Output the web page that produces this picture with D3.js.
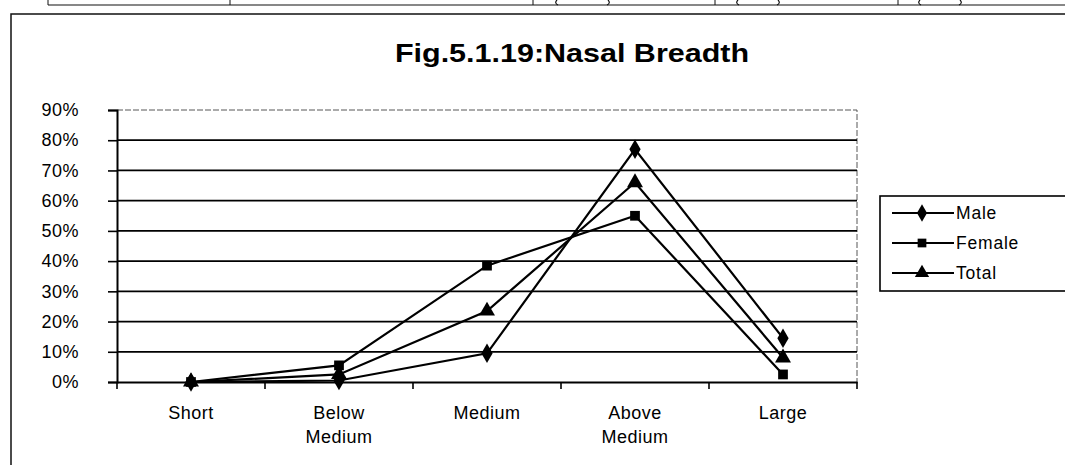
<!DOCTYPE html>
<html lang="en">
<head>
    <meta charset="UTF-8">
    <title>Fig.5.1.19:Nasal Breadth</title>
    <script src="https://d3js.org/d3.v7.min.js"></script>
    <style>
        body { margin: 0; background: #fff; }
        svg { display: block; font-family: "Liberation Sans", Arial, sans-serif; }
        .tick-label { font-size: 18px; letter-spacing: 0.5px; fill: #000; }
        .legend-label { font-size: 17.5px; letter-spacing: 0.8px; fill: #000; }
        .title { font-size: 25px; font-weight: bold; fill: #000; }
    </style>
</head>
<body>
<svg id="chart" width="1065" height="465"></svg>
<script>
    // data (percent)
    const categories = ["Short", "Below Medium", "Medium", "Above Medium", "Large"];
    const male = [0, 0.5, 9.5, 77, 14.5];
    const female = [0, 5.5, 38.5, 55, 2.5];
    const total = [0, 2.5, 23.5, 66, 8];
    const seriesNames = ["Male", "Female", "Total"];
    const yTicks = [0, 10, 20, 30, 40, 50, 60, 70, 80, 90];

    const series = [
        {name: seriesNames[0], values: male, symbol: d3.symbolDiamond, size: 110},
        {name: seriesNames[1], values: female, symbol: d3.symbolSquare, size: 95},
        {name: seriesNames[2], values: total, symbol: d3.symbolTriangle, size: 110}
    ];

    const svg = d3.select("#chart");

    // bits of the table above the figure and the figure frame
    svg.append("line").attr("x1", 48).attr("x2", 1065).attr("y1", 5).attr("y2", 5)
        .attr("stroke", "#111").attr("stroke-width", 1.2);
    [48, 230, 533, 715, 898].forEach(x => {
        svg.append("line").attr("x1", x).attr("x2", x).attr("y1", 0).attr("y2", 5)
            .attr("stroke", "#111").attr("stroke-width", 1);
    });
    // bottoms of brackets from the table row
    [[555, 1], [610, -1], [736, 1], [780, -1], [918, 1], [962, -1]].forEach(p => {
        svg.append("path")
            .attr("d", `M${p[0] + p[1] * 2},0 Q${p[0] - p[1] * 1},3 ${p[0] + p[1] * 3},5`)
            .attr("fill", "none").attr("stroke", "#111").attr("stroke-width", 1.2);
    });
    svg.append("path").attr("d", "M11,465 V14 H1065")
        .attr("fill", "none").attr("stroke", "#111").attr("stroke-width", 1.5);

    svg.append("text").attr("class", "title")
        .attr("text-anchor", "middle")
        .attr("transform", "translate(572,62) scale(1.22,1)")
        .text("Fig.5.1.19:Nasal Breadth");

    const margin = {left: 117, right: 857, top: 110, bottom: 382};

    const x = d3.scaleBand().domain(categories).range([margin.left, margin.right]);
    const y = d3.scaleLinear().domain([0, 90]).range([margin.bottom, margin.top]);

    // plot area border (light dashed)
    svg.append("path")
        .attr("d", `M${margin.left},${margin.top} H${margin.right} V${margin.bottom}`)
        .attr("fill", "none").attr("stroke", "#444").attr("stroke-width", 0.9)
        .attr("stroke-dasharray", "6,2");

    // gridlines
    svg.append("g").selectAll("line")
        .data(yTicks.filter(t => t > 0 && t < 90))
        .join("line")
        .attr("x1", margin.left).attr("x2", margin.right)
        .attr("y1", d => y(d)).attr("y2", d => y(d))
        .attr("stroke", "#000").attr("stroke-width", 1.8);

    // y axis
    const yAxis = svg.append("g")
        .attr("transform", `translate(${margin.left},0)`)
        .call(d3.axisLeft(y).tickValues(yTicks).tickFormat(d => d + "%").tickSize(9).tickPadding(29));
    yAxis.select(".domain").attr("stroke", "#000").attr("stroke-width", 2);
    yAxis.selectAll(".tick line").attr("stroke", "#000").attr("stroke-width", 1.6);
    yAxis.selectAll(".tick text").attr("class", "tick-label").attr("font-family", null).attr("font-size", null);

    // x axis with ticks between categories
    const xAxis = svg.append("g")
        .attr("transform", `translate(0,${margin.bottom})`)
        .call(d3.axisBottom(x).tickSize(0).tickPadding(24));
    xAxis.select(".domain").attr("stroke", "#000").attr("stroke-width", 2);
    xAxis.selectAll(".tick text")
        .attr("class", "tick-label").attr("font-family", null).attr("font-size", null)
        .text(null)
        .each(function(d) {
            const words = d.split(" ");
            const t = d3.select(this);
            words.forEach((w, i) => {
                t.append("tspan").attr("x", 0).attr("dy", i === 0 ? "0.71em" : "1.35em").text(w);
            });
        });
    const bounds = categories.map(c => x(c)).concat([margin.right]);
    svg.append("g").selectAll("line").data(bounds).join("line")
        .attr("x1", d => d).attr("x2", d => d)
        .attr("y1", margin.bottom).attr("y2", margin.bottom + 7)
        .attr("stroke", "#000").attr("stroke-width", 1.6);

    const cx = c => x(c) + x.bandwidth() / 2;
    const line = d3.line().x((d, i) => cx(categories[i])).y(d => y(d));

    const g = svg.append("g");
    series.forEach(s => {
        g.append("path").datum(s.values)
            .attr("d", line)
            .attr("fill", "none").attr("stroke", "#000").attr("stroke-width", 2.2);
        g.selectAll(null).data(s.values).join("path")
            .attr("transform", (d, i) => `translate(${cx(categories[i])},${y(d)})`)
            .attr("d", d3.symbol().type(s.symbol).size(s.size))
            .attr("fill", "#000");
    });

    // legend
    const legend = svg.append("g");
    legend.append("rect").attr("x", 880).attr("y", 196).attr("width", 200).attr("height", 95)
        .attr("fill", "#fff").attr("stroke", "#000").attr("stroke-width", 1.6);
    series.forEach((s, i) => {
        const ly = 213 + i * 30;
        legend.append("line").attr("x1", 892).attr("x2", 954).attr("y1", ly).attr("y2", ly)
            .attr("stroke", "#000").attr("stroke-width", 2);
        legend.append("path").attr("transform", `translate(922,${ly})`)
            .attr("d", d3.symbol().type(s.symbol).size(s.size * 0.8)).attr("fill", "#000");
        legend.append("text").attr("class", "legend-label")
            .attr("x", 956).attr("y", ly).attr("dy", "0.36em").text(s.name);
    });
</script>
</body>
</html>
